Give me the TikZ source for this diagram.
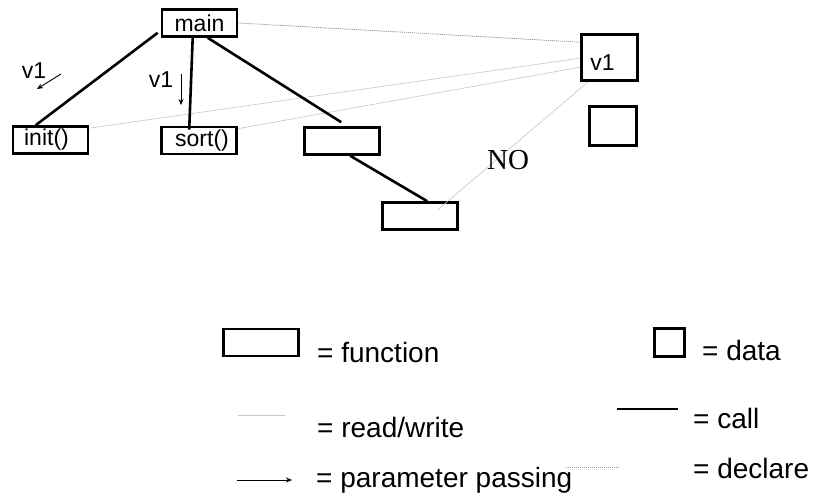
\documentclass[tikz,border=0pt]{standalone}
\usepackage{fontspec}
\setmainfont{Liberation Sans}
\newfontfamily\seriffont{Liberation Serif}
\usetikzlibrary{arrows.meta,calc}
\tikzset{
  funcbox/.style={draw=black,line width=2.6pt,rectangle,inner sep=0pt,
    minimum width=75pt,minimum height=27pt,font=\fontsize{23}{26}\selectfont},
  databox/.style={draw=black,line width=2.6pt,rectangle,inner sep=0pt,font=\fontsize{23}{26}\selectfont},
  callline/.style={line width=2.6pt,black},
  rwline/.style={line width=0.6pt,black!22},
  declline/.style={line width=0.8pt,black!40,dash pattern=on 1.2pt off 0.8pt},
  passarrow/.style={line width=0.9pt,black,-{Stealth[length=6pt,width=5pt]}},
  lbl/.style={inner sep=0pt,font=\fontsize{23}{26}\selectfont},
  legtext/.style={inner sep=0pt,anchor=base west,font=\fontsize{28}{32}\selectfont}
}
\begin{document}
\begin{tikzpicture}[x=1pt,y=-1pt]
\useasboundingbox[fill=white] (0,0) rectangle (824,497);

% functions
\node[funcbox] (main) at (199.5,23) {main};
\node[funcbox] (init) at (50.5,140) {\hspace*{-8pt}init()};
\node[funcbox] (sort) at (199,140.5) {\hspace*{6pt}sort()};
\node[funcbox] (f3) at (342,141) {};
\node[funcbox] (f4) at (420,216) {};

% data
\node[databox,minimum width=56pt,minimum height=46pt,
  label={[lbl,xshift=-7pt,yshift=-5pt]center:v1}] (v1) at (609.5,57.5) {};
\node[databox,minimum width=47pt,minimum height=39pt] (d2) at (613,126) {};

% declare / read-write
\draw[declline] (main.east) -- ([yshift=-9pt]v1.north west);
\draw[rwline] ([yshift=-3pt]init.north east) -- ([yshift=-25pt]v1.north west);
\draw[rwline] ([yshift=-3pt]sort.north east) -- ([yshift=-34pt]v1.north west);
\draw[rwline] ([xshift=8pt]v1.south west) -- ([xshift=56pt,yshift=-9pt]f4.north west);

% calls
\draw[callline] ([xshift=-3pt,yshift=5pt]main.south west) -- ([xshift=24pt]init.north west);
\draw[callline] ([xshift=32pt]main.south west) -- ([xshift=29pt,yshift=-4pt]sort.north west);
\draw[callline] ([xshift=47pt]main.south west) -- ([xshift=38pt,yshift=4pt]f3.north west);
\draw[callline] ([xshift=47pt]f3.south west) -- ([xshift=46pt]f4.north west);

% parameter passing
\node[lbl] (p1) at (34,71) {v1};
\coordinate (p1a) at (61,74);
\coordinate (p1b) at (37,89);
\draw[passarrow] (p1a) -- (p1b);
\node[lbl] (p2) at (161,80) {v1};
\coordinate (p2a) at (181,74);
\coordinate (p2b) at (181,105);
\draw[passarrow] (p2a) -- (p2b);

\node[inner sep=0pt,font=\seriffont\fontsize{29}{32}\selectfont] (no) at (508,160) {NO};

% legend
\node[funcbox] (lf) at (261,342.5) {};
\node[legtext] (tf) at (317,362) {= function};
\node[databox,minimum width=30pt,minimum height=28pt] (ld) at (669.5,342.5) {};
\node[legtext] (td) at (702,360) {= data};

\coordinate (rwa) at (238,415);
\coordinate (rwb) at (285,415);
\draw[rwline] (rwa) -- (rwb);
\node[legtext] (trw) at (317,437) {= read/write};

\coordinate (ca) at (617,409);
\coordinate (cb) at (678,409);
\draw[callline] (ca) -- (cb);
\node[legtext] (tc) at (693,428) {= call};

\coordinate (pa) at (237,480);
\coordinate (pb) at (292,480);
\draw[passarrow] (pa) -- (pb);
\node[legtext] (tp) at (316,487) {= parameter passing};

\coordinate (da) at (566,467);
\coordinate (db) at (620,467);
\draw[declline] (da) -- (db);
\node[legtext] (tdc) at (693,478) {= declare};
\end{tikzpicture}
\end{document}
